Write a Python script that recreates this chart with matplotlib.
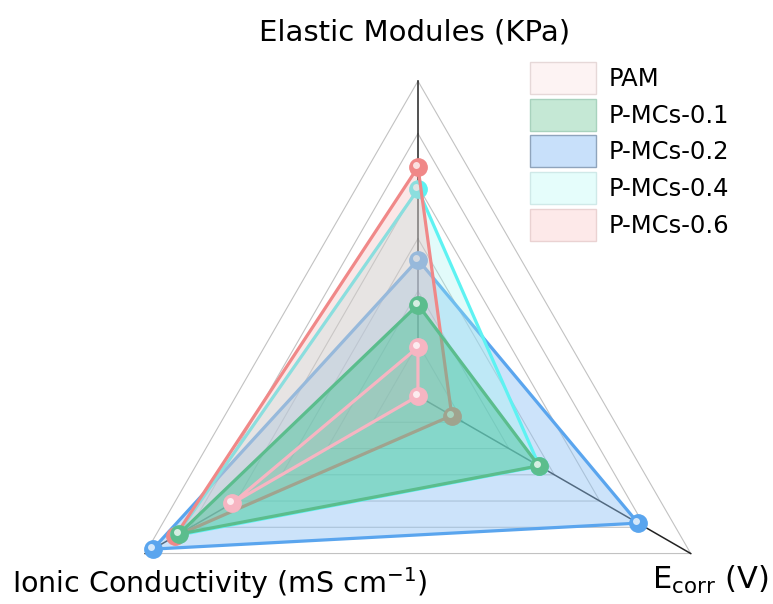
import numpy as np
import matplotlib
matplotlib.use("Agg")
import matplotlib.pyplot as plt
from matplotlib.patches import Patch
from matplotlib.transforms import offset_copy

plt.rcParams['font.family'] = ['DejaVu Sans']
plt.rcParams['mathtext.default'] = 'regular'

# axes clockwise from the top, values as fraction of the outer grid
axis_names = ["Elastic Modules (KPa)", "E$_{corr}$ (V)", "Ionic Conductivity (mS cm$^{-1}$)"]
labels = ["PAM", "P-MCs-0.1", "P-MCs-0.2", "P-MCs-0.4", "P-MCs-0.6"]
pam = [0.155, 0.0, 0.68]
mcs_01 = [0.29, 0.443, 0.877]
mcs_02 = [0.433, 0.807, 0.972]
mcs_04 = [0.656, 0.445, 0.885]
mcs_06 = [0.727, 0.124, 0.89]
grid_levels = [1/6, 2/6, 3/6, 4/6, 5/6, 1.0]

series = {
    "PAM": pam,
    "P-MCs-0.1": mcs_01,
    "P-MCs-0.2": mcs_02,
    "P-MCs-0.4": mcs_04,
    "P-MCs-0.6": mcs_06,
}
line_col = {"PAM": "#f7b5c2", "P-MCs-0.1": "#5bbd8d", "P-MCs-0.2": "#5aa5ee",
            "P-MCs-0.4": "#5ef2f2", "P-MCs-0.6": "#f08888"}
fill_col = {"PAM": ("#f5b5c0", 0.15), "P-MCs-0.1": ("#40c496", 0.45),
            "P-MCs-0.2": ("#8fc3f5", 0.45), "P-MCs-0.4": ("#a0f5f0", 0.3),
            "P-MCs-0.6": ("#f5b0b0", 0.3)}
legend_face = {"PAM": "#fdf3f3", "P-MCs-0.1": "#c5e8d5", "P-MCs-0.2": "#c8e0fa",
               "P-MCs-0.4": "#e5fdfb", "P-MCs-0.6": "#fde9e9"}
legend_edge = {"PAM": "#e6d8d8", "P-MCs-0.1": "#a8d2bd", "P-MCs-0.2": "#8fa4bc",
               "P-MCs-0.4": "#cfe9e8", "P-MCs-0.6": "#ead2d2"}
draw_order = ["P-MCs-0.2", "P-MCs-0.4", "P-MCs-0.6", "P-MCs-0.1", "PAM"]

fig = plt.figure(figsize=(7.73, 6.04), dpi=100)
ax = fig.add_axes([0.1332, -0.1772, 0.815, 1.043], projection='polar')
ax.set_theta_offset(np.pi / 2)
ax.set_theta_direction(-1)
ax.set_ylim(0, 1)
ax.set_axis_off()

angles = np.linspace(0, 2 * np.pi, len(axis_names), endpoint=False)
closed = np.append(angles, angles[0])

# triangular grid and spokes
for lv in grid_levels:
    ax.plot(closed, [lv] * len(closed), color='#c2c2c2', lw=0.8, zorder=1, clip_on=False)
for a in angles:
    ax.plot([a, a], [0, 1], color='#222222', lw=1.1, zorder=1.5, clip_on=False)

hl = offset_copy(ax.transData, fig=fig, x=-2.0, y=2.0, units='dots')

z = 2
for name in draw_order:
    vals = series[name]
    v = np.append(vals, vals[0])
    fc, al = fill_col[name]
    ax.fill(closed, v, color=fc, alpha=al, lw=0, zorder=z)
    ax.plot(closed, v, color=line_col[name], lw=2.3, zorder=z + 0.1, clip_on=False)
    ax.plot(angles, vals, ls='none', marker='o', ms=12.5, color=line_col[name],
            mec=line_col[name], zorder=z + 0.2, clip_on=False)
    ax.plot(angles, vals, ls='none', marker='o', ms=5, color='white', mew=0,
            alpha=0.75, transform=hl, zorder=z + 0.3, clip_on=False)
    z += 1

handles = [Patch(facecolor=legend_face[n], edgecolor=legend_edge[n], lw=1.0) for n in labels]
fig.legend(handles, labels, loc='upper left', bbox_to_anchor=(530 / 773, 1 - 62 / 604),
           frameon=False, fontsize=17.5, handlelength=2.72, handleheight=1.65,
           labelspacing=0.19, handletextpad=0.5, borderpad=0, borderaxespad=0)

fig.text(415 / 773, 1 - 32 / 604, axis_names[0], fontsize=21, ha='center', va='center')
fig.text(12 / 773, 1 - 583 / 604, axis_names[2], fontsize=20.5, ha='left', va='center')
fig.text(768 / 773, 1 - 580 / 604, axis_names[1], fontsize=22, ha='right', va='center')

fig.savefig("out.png", dpi=100)
